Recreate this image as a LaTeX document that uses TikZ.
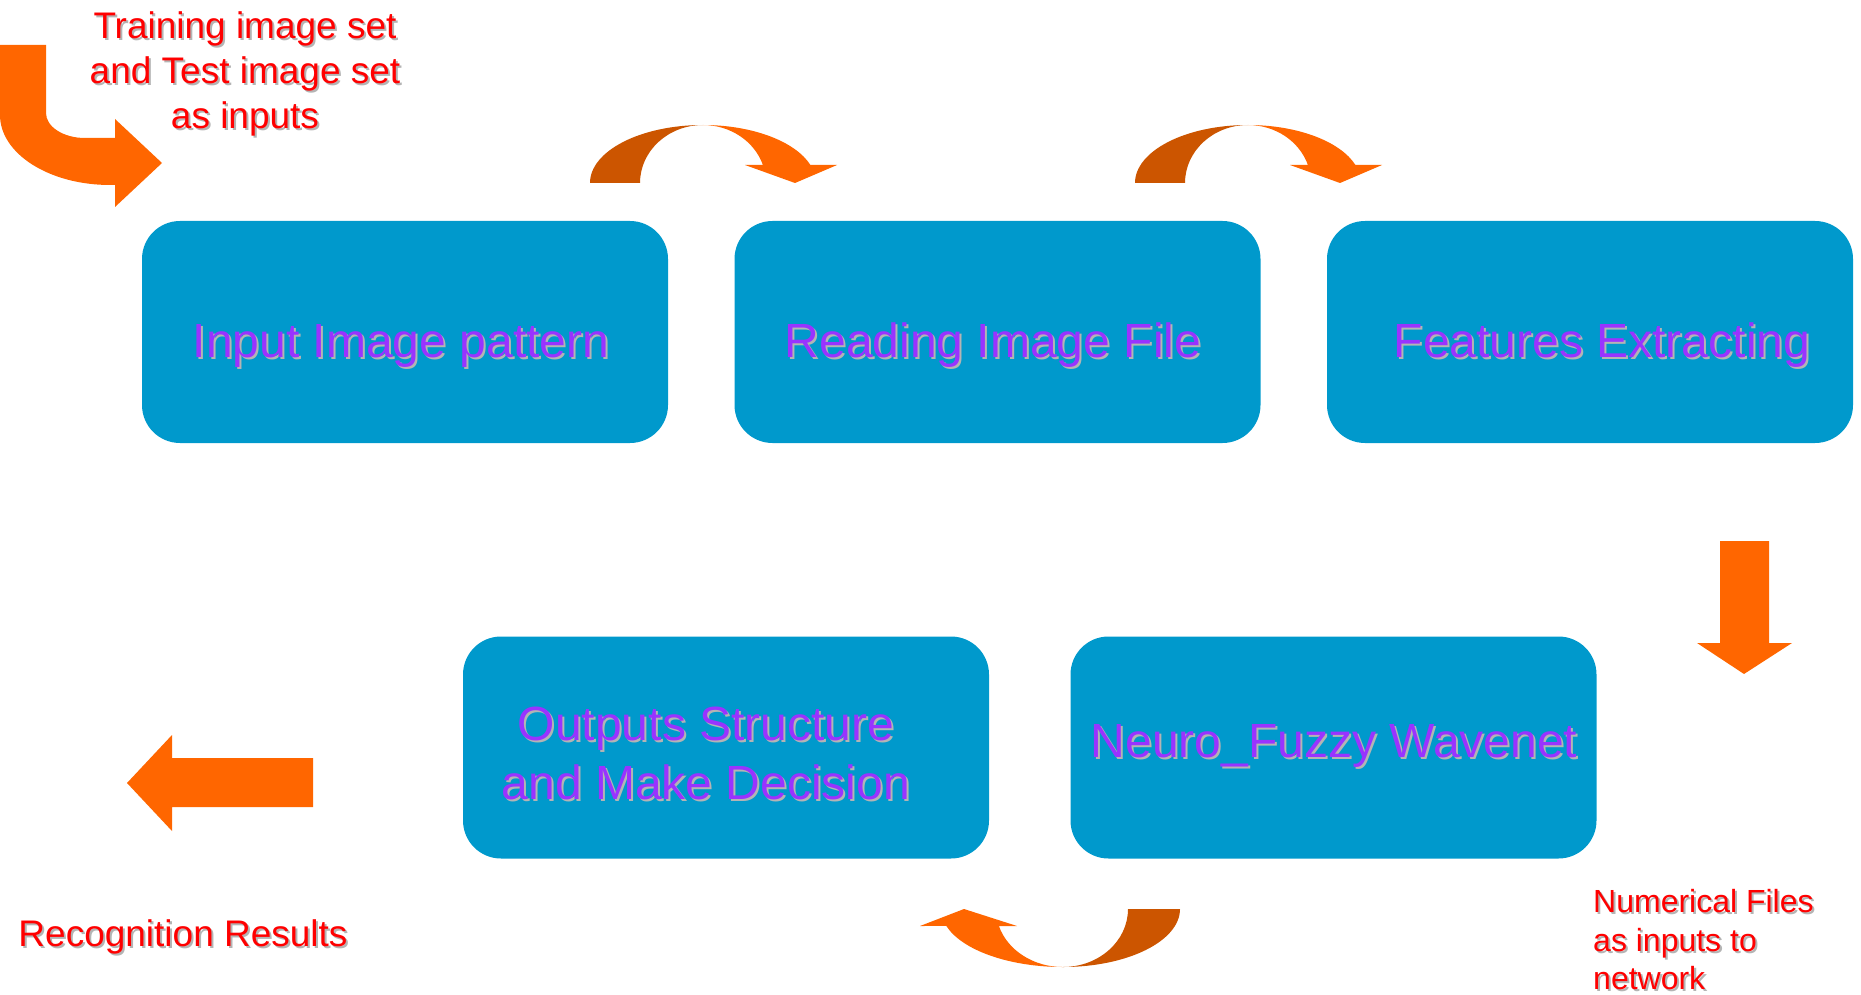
\documentclass[tikz,border=0pt]{standalone}
\usepackage{fontspec}
\setmainfont{Liberation Sans}
\definecolor{boxblue}{HTML}{0099CC}
\definecolor{txtpurple}{HTML}{9933FF}
\definecolor{arrorange}{HTML}{FF6600}
\definecolor{arrdark}{HTML}{CC5500}
\definecolor{shade}{HTML}{B4B4B4}
\definecolor{redtext}{HTML}{FF0000}
\newcommand{\shd}[1]{\leavevmode\rlap{\hspace{2pt}\raisebox{-2pt}[0pt][0pt]{\textcolor{shade}{#1}}}#1}
\begin{document}
\begin{tikzpicture}[x=1pt,y=1pt,
  stagebox/.style={rectangle, rounded corners=38pt, fill=boxblue, minimum width=526pt, minimum height=222pt, inner sep=0pt},
  stagelbl/.style={text=txtpurple, font=\fontsize{48}{59}\selectfont, align=center, inner sep=0pt},
  notelbl/.style={text=redtext, font=\fontsize{37}{45}\selectfont, align=center, inner sep=0pt},
  blockarrow/.style={fill=arrorange},
  backarrow/.style={fill=arrdark}]
\useasboundingbox (0,0) rectangle (1861,-995);

% stage boxes
\node[stagebox] (b1) at (405,-332) {};
\node[stagebox] (b2) at (997.5,-332) {};
\node[stagebox] (b3) at (1590,-332) {};
\node[stagebox] (b4) at (726,-747.5) {};
\node[stagebox] (b5) at (1333.5,-747.5) {};

\node[stagelbl] (t1) at (401,-345.5) {\shd{Input Image pattern}};
\node[stagelbl] (t2) at (993,-345.5) {\shd{Reading Image File}};
\node[stagelbl] (t3) at (1602,-345.5) {\shd{Features Extracting}};
\node[stagelbl] (t5) at (1334,-745.5) {\shd{Neuro\_Fuzzy Wavenet}};
\node[stagelbl] (t4) at (706,-753) {\shd{Outputs Structure}\\\shd{and Make Decision}};

% notes
\node[notelbl] (n1) at (245,-73.5) {\shd{Training image set}\\\shd{and Test image set}\\\shd{as inputs}};
\node[notelbl] (n2) at (183,-936.5) {\shd{Recognition Results}};
\node[notelbl, font=\fontsize{32}{38.5}\selectfont, align=left, anchor=west] (n3) at (1593,-940) {\shd{Numerical Files}\\\shd{as inputs to}\\\shd{network}};

% bent input arrow (top left)
\fill[blockarrow] (0,-45) -- (46,-45) -- (46,-113)
  arc[start angle=180, end angle=270, x radius=39, y radius=25]
  -- (115,-138) -- (115,-119) -- (162,-163) -- (115,-207) -- (115,-185) -- (110,-185)
  arc[start angle=270, end angle=180, x radius=110, y radius=70] -- cycle;

% curved arrows on top
\foreach \dx in {0,545}{
\begin{scope}[xshift=\dx pt]
\fill[backarrow] (590,-183) arc[start angle=180, end angle=90, x radius=113, y radius=58]
  arc[start angle=90, end angle=180, x radius=63, y radius=58] -- cycle;
\fill[blockarrow] (703,-125) arc[start angle=90, end angle=18.1, x radius=113, y radius=58]
  -- (837,-165) -- (795,-183) -- (745,-165) -- (762.9,-165)
  arc[start angle=18.1, end angle=90, x radius=63, y radius=58] -- cycle;
\end{scope}}

% curved arrow at the bottom
\fill[backarrow] (1180,-909) arc[start angle=0, end angle=-90, x radius=117, y radius=58]
  arc[start angle=-90, end angle=0, x radius=65, y radius=58] -- cycle;
\fill[blockarrow] (1063,-967) arc[start angle=-90, end angle=-163, x radius=122, y radius=58]
  -- (920,-926) -- (964,-909) -- (1017,-926) -- (998.9,-926)
  arc[start angle=-163, end angle=-90, x radius=67, y radius=58] -- cycle;

% down arrow
\fill[blockarrow] (1720,-541) -- (1769,-541) -- (1769,-643) -- (1792,-643) -- (1744,-674) -- (1697,-643) -- (1720,-643) -- cycle;

% left output arrow
\fill[blockarrow] (313,-758) -- (172,-758) -- (172,-735) -- (127,-783) -- (172,-831) -- (172,-807) -- (313,-807) -- cycle;
\end{tikzpicture}
\end{document}
